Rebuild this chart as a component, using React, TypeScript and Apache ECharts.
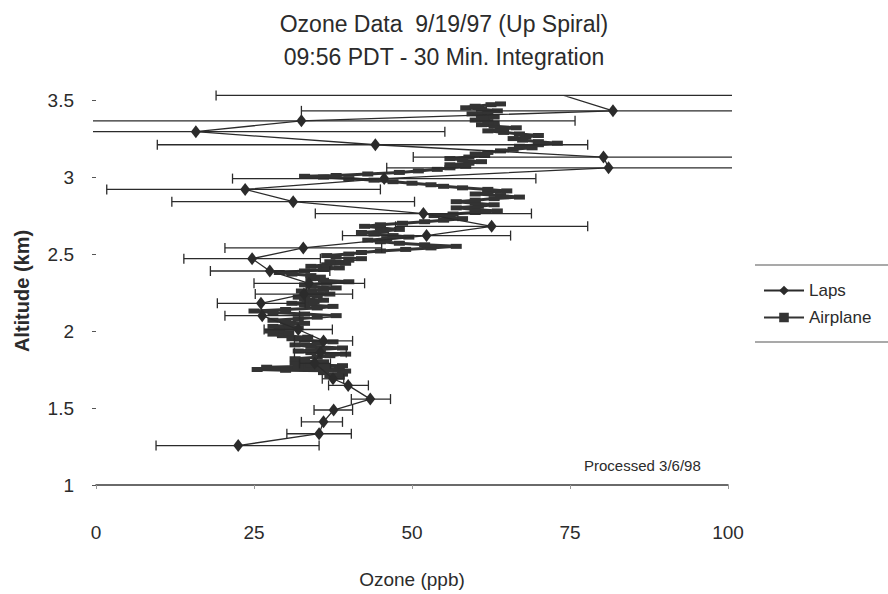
import React, { useEffect, useRef } from "react";
import * as echarts from "echarts";

// Laps (model) profile: altitude (km), ozone (ppb), error bar ends (ppb)
const lapsAltitude = [1.256, 1.333, 1.41, 1.487, 1.558, 1.647, 1.69, 1.79, 1.86, 1.936, 2.01, 2.1, 2.18, 2.24, 2.31, 2.39, 2.47, 2.54, 2.62, 2.68, 2.763, 2.84, 2.92, 2.99, 3.06, 3.13, 3.21, 3.295, 3.365, 3.43, 3.53];
const lapsOzone = [22.5, 35.3, 36.0, 37.6, 43.4, 39.9, 37.5, 34.6, 35.5, 36.0, 32.0, 26.3, 26.1, 32.9, 33.7, 27.5, 24.7, 32.8, 52.3, 62.6, 51.8, 31.2, 23.6, 45.6, 81.1, 80.3, 44.2, 15.8, 32.5, 81.8, 74.0];
const lapsLow = [9.5, 30.2, 32.5, 34.5, 40.4, 36.8, 35.8, 32.2, 31.4, 31.4, 26.6, 20.4, 19.2, 25.2, 25.0, 18.1, 13.9, 20.4, 39.0, 47.4, 34.7, 12.0, 1.7, 21.6, 46.0, 50.2, 9.7, -23.6, -10.8, 32.5, 19.0];
const lapsHigh = [35.3, 40.4, 39.0, 40.6, 46.6, 43.1, 39.2, 37.1, 39.6, 40.6, 37.4, 32.2, 33.1, 40.6, 42.5, 37.0, 35.5, 45.2, 65.6, 77.8, 68.9, 50.4, 45.0, 69.6, 116, 110, 77.8, 55.2, 75.8, 131, 140];

// Airplane measurements: altitude (km), ozone (ppb)
const airplaneAltitude = [1.7, 1.71, 1.72, 1.73, 1.74, 1.745, 1.75, 1.755, 1.76, 1.765, 1.77, 1.775, 1.78, 1.79, 1.8, 1.81, 1.82, 1.83, 1.84, 1.85, 1.86, 1.87, 1.88, 1.89, 1.9, 1.91, 1.92, 1.93, 1.94, 1.95, 1.96, 1.97, 1.98, 1.99, 2.0, 2.01, 2.02, 2.03, 2.04, 2.05, 2.06, 2.07, 2.08, 2.09, 2.1, 2.11, 2.12, 2.13, 2.14, 2.15, 2.16, 2.17, 2.18, 2.19, 2.2, 2.21, 2.22, 2.23, 2.24, 2.25, 2.26, 2.27, 2.28, 2.29, 2.3, 2.31, 2.32, 2.33, 2.34, 2.35, 2.36, 2.37, 2.38, 2.39, 2.4, 2.41, 2.42, 2.43, 2.44, 2.45, 2.46, 2.47, 2.48, 2.49, 2.5, 2.51, 2.52, 2.53, 2.54, 2.55, 2.56, 2.57, 2.58, 2.59, 2.6, 2.61, 2.62, 2.63, 2.64, 2.65, 2.66, 2.67, 2.68, 2.69, 2.7, 2.71, 2.72, 2.73, 2.74, 2.75, 2.76, 2.77, 2.78, 2.79, 2.8, 2.81, 2.82, 2.83, 2.84, 2.85, 2.86, 2.87, 2.88, 2.89, 2.9, 2.91, 2.92, 2.93, 2.94, 2.95, 2.96, 2.97, 2.98, 2.99, 3.0, 3.005, 3.01, 3.02, 3.03, 3.04, 3.05, 3.06, 3.07, 3.08, 3.09, 3.1, 3.11, 3.12, 3.13, 3.14, 3.15, 3.16, 3.17, 3.18, 3.19, 3.2, 3.21, 3.22, 3.23, 3.24, 3.25, 3.26, 3.27, 3.28, 3.29, 3.3, 3.31, 3.32, 3.33, 3.34, 3.35, 3.36, 3.37, 3.38, 3.39, 3.4, 3.41, 3.42, 3.43, 3.44, 3.45, 3.46, 3.47, 3.475];
const airplaneOzone = [38.5, 37, 39, 36, 39.5, 30, 25.5, 33, 38.5, 27, 32, 39, 34, 31.5, 36, 33, 31.5, 35, 37, 39.5, 34, 32, 35.5, 39, 34, 31.5, 35, 37.5, 33, 31, 33.5, 29.5, 28, 30.5, 27.5, 29, 32, 28, 30.5, 33, 30, 28, 32, 35, 38, 33, 28, 25, 30, 35, 37.5, 33, 31, 34.5, 36, 33, 32, 35, 37, 34, 32.5, 36, 38, 34, 33, 36.5, 40, 36, 34, 35.5, 34, 31, 29, 33, 36, 38.5, 34, 36.5, 39.5, 37, 40, 42, 38, 36.5, 40, 42, 45, 49, 53, 57, 52, 48, 45, 43, 46, 49.5, 47, 44, 42, 45.5, 48, 45, 42.5, 45, 48.5, 52, 55, 58, 56, 53.5, 56.5, 60, 63.5, 60, 57, 60.5, 63, 60, 57, 60, 63, 67, 64, 60, 62, 65, 62, 58, 55, 53, 50, 47, 44, 40, 36, 33, 38, 43, 48, 51, 54, 56, 58.5, 56, 59, 61, 58, 56, 59, 61.5, 60, 62, 64, 66, 69, 67, 70, 73, 70, 67.5, 66, 68, 70, 67, 64.5, 62, 64, 66.5, 63, 61, 63, 62, 60, 61.5, 63, 61, 59.5, 62, 63.5, 61, 58.5, 60, 62.5, 64];

const xTicks = [0, 25, 50, 75, 100];
const yTicks = [1, 1.5, 2, 2.5, 3, 3.5];

const FONT = "'Liberation Sans Narrow', 'Liberation Sans', Arial, sans-serif";
const INK = "#2b2b2b";

export default function App() {
  const ref = useRef<HTMLDivElement>(null);

  useEffect(() => {
    if (!ref.current) return;
    const chart = echarts.init(ref.current, null, { renderer: "svg" });

    const lapsPoints = lapsOzone.map((v, i) => [v, lapsAltitude[i]]);
    const errData = lapsOzone.map((_, i) => [lapsLow[i], lapsHigh[i], lapsAltitude[i]]);
    const airPoints = airplaneOzone.map((v, i) => [v, airplaneAltitude[i]]);

    const renderErr = (params: any, api: any) => {
      const lo = api.value(0);
      const hi = api.value(1);
      const y = api.value(2);
      const p1 = api.coord([lo, y]);
      const p2 = api.coord([hi, y]);
      const cs = params.coordSys;
      if (p1[1] < cs.y - 3 || p1[1] > cs.y + cs.height) return null;
      const x0 = cs.x - 3;
      const x1 = cs.x + cs.width + 4;
      const l = Math.max(p1[0], x0);
      const r = Math.min(p2[0], x1);
      const style = { stroke: INK, lineWidth: 1.3 };
      const children: any[] = [
        { type: "line", shape: { x1: l, y1: p1[1], x2: r, y2: p1[1] }, style },
      ];
      if (p1[0] >= x0) children.push({ type: "line", shape: { x1: p1[0], y1: p1[1] - 5, x2: p1[0], y2: p1[1] + 5 }, style });
      if (p2[0] <= x1) children.push({ type: "line", shape: { x1: p2[0], y1: p2[1] - 5, x2: p2[0], y2: p2[1] + 5 }, style });
      return { type: "group", children };
    };

    chart.setOption({
      animation: false,
      backgroundColor: "#ffffff",
      textStyle: { fontFamily: FONT, color: INK },
      title: {
        text: "Ozone Data  9/19/97 (Up Spiral)\n09:56 PDT - 30 Min. Integration",
        left: "center",
        top: 2,
        textStyle: { fontFamily: FONT, fontSize: 23, fontWeight: "normal", lineHeight: 33, color: INK },
      },
      grid: { left: 96, right: 160, top: 97, bottom: 100 },
      xAxis: {
        type: "value",
        min: xTicks[0],
        max: xTicks[xTicks.length - 1],
        interval: 25,
        name: "Ozone (ppb)",
        nameLocation: "middle",
        nameGap: 85,
        nameTextStyle: { fontFamily: FONT, fontSize: 19, color: INK },
        axisLine: { show: true, lineStyle: { color: "#3a3a3a", width: 1.5 } },
        axisTick: { show: true, length: 4, lineStyle: { color: "#999" } },
        axisLabel: { margin: 38, fontFamily: FONT, fontSize: 19, color: INK },
        splitLine: { show: false },
      },
      yAxis: {
        type: "value",
        min: yTicks[0],
        max: 3.52,
        interval: 0.5,
        name: "Altitude (km)",
        nameLocation: "middle",
        nameGap: 64,
        nameTextStyle: { fontFamily: "'Liberation Sans', Arial, sans-serif", fontSize: 20, fontWeight: "bold", color: INK },
        axisLine: { show: false },
        axisTick: { show: true, length: 4, lineStyle: { color: "#555" } },
        axisLabel: {
          margin: 22,
          fontFamily: FONT,
          fontSize: 19,
          color: INK,
          showMaxLabel: false,
          formatter: (v: number) => (yTicks.indexOf(Math.round(v * 10) / 10) >= 0 ? String(Math.round(v * 10) / 10) : ""),
        },
        splitLine: { show: false },
      },
      legend: {
        left: 758,
        top: 277,
        orient: "vertical",
        itemWidth: 40,
        itemHeight: 12,
        itemGap: 10,
        textStyle: { fontFamily: FONT, fontSize: 17, color: INK },
        data: ["Laps", "Airplane"],
      },
      graphic: [
        { type: "line", shape: { x1: 755, y1: 265, x2: 888, y2: 265 }, style: { stroke: "#555", lineWidth: 1.2 } },
        { type: "line", shape: { x1: 755, y1: 342, x2: 888, y2: 342 }, style: { stroke: "#555", lineWidth: 1.2 } },
        {
          type: "text",
          left: 584,
          top: 458,
          style: { text: "Processed 3/6/98", fontFamily: FONT, fontSize: 15, fill: INK },
        },
      ],
      series: [
        {
          name: "Airplane",
          type: "line",
          data: airPoints,
          z: 2,
          symbol: "rect",
          symbolSize: [11, 5],
          showAllSymbol: true,
          lineStyle: { color: "#333", width: 3 },
          itemStyle: { color: "#333" },
          clip: true,
        },
        {
          name: "Laps error",
          type: "custom",
          data: errData,
          renderItem: renderErr,
          encode: { x: [0, 1], y: 2 },
          z: 3,
          silent: true,
        },
        {
          name: "Laps",
          type: "line",
          data: lapsPoints,
          z: 4,
          symbol: "diamond",
          symbolSize: [10, 13],
          showAllSymbol: true,
          lineStyle: { color: INK, width: 1.3 },
          itemStyle: { color: INK },
          clip: true,
        },
      ],
    });

    return () => chart.dispose();
  }, []);

  return <div ref={ref} style={{ position: "fixed", left: 0, top: 0, width: 888, height: 594 }} />;
}
